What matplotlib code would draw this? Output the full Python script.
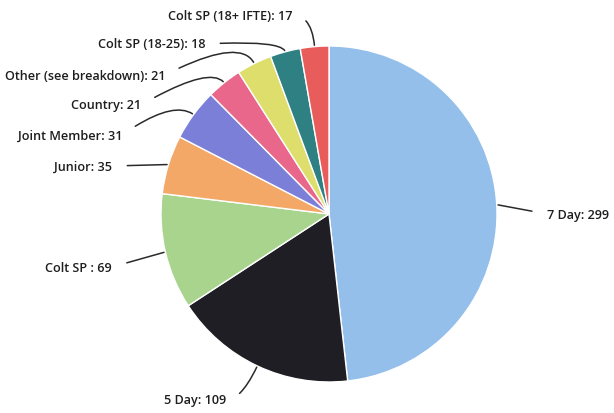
import numpy as np
import matplotlib
matplotlib.use("Agg")
import matplotlib.pyplot as plt

# data
labels = ["7 Day", "5 Day", "Colt SP ", "Junior", "Joint Member", "Country",
          "Other (see breakdown)", "Colt SP (18-25)", "Colt SP (18+ IFTE)"]
values = [299, 109, 69, 35, 31, 21, 21, 18, 17]
colors = ["#93bfea", "#1e1e24", "#a8d48d", "#f3a868", "#7c7fd8", "#e9678b",
          "#dede6c", "#2e8082", "#e85c5c"]

# label layout (pixels, origin bottom-left), ha, connection
text_pos = [(547, 199), (226, 13), (112, 146), (112, 247), (122, 278),
            (141, 308), (165, 338), (205, 369), (292, 398)]
text_ha = ["left", "right", "right", "right", "right", "right", "right", "right", "right"]
conn = ["arc3,rad=0", "angle3,angleA=0,angleB={b}", "arc3,rad=0", "arc3,rad=0",
        "angle3,angleA=35,angleB={b}", "angle3,angleA=30,angleB={b}",
        "angle3,angleA=27,angleB={b}", "angle3,angleA=3,angleB={b}",
        "angle3,angleA=0,angleB={b}"]

W, H = 614, 414
cx, cy, R = 329, 199, 168

plt.rcParams['font.family'] = ['Open Sans', 'DejaVu Sans']
fig = plt.figure(figsize=(W / 100, H / 100), dpi=100)
ax = fig.add_axes([0, 0, 1, 1])
wedges, _ = ax.pie(values, colors=colors, startangle=90, counterclock=False,
                   center=(cx, cy), radius=R, frame=True,
                   wedgeprops=dict(edgecolor="white", linewidth=1.0))
ax.set_xlim(0, W)
ax.set_ylim(0, H)
ax.set_aspect("equal")
ax.axis("off")

for w, lab, v, pos, ha, cs in zip(wedges, labels, values, text_pos, text_ha, conn):
    ang = (w.theta1 + w.theta2) / 2
    ax_x = cx + R * np.cos(np.radians(ang))
    ax_y = cy + R * np.sin(np.radians(ang))
    rel = (1, 0.5) if ha == "right" else (0, 0.5)
    ax.annotate(f"{lab}: {v}", xy=(ax_x, ax_y), xytext=pos, ha=ha, va="center",
                fontsize=9.1, fontweight="semibold", color="#1e1e1e",
                arrowprops=dict(arrowstyle="-", color="#2a2a2a", lw=1.1,
                                connectionstyle=cs.format(b=ang), relpos=rel,
                                shrinkA=9, shrinkB=1))

fig.savefig("out.png", dpi=100, facecolor="white")
